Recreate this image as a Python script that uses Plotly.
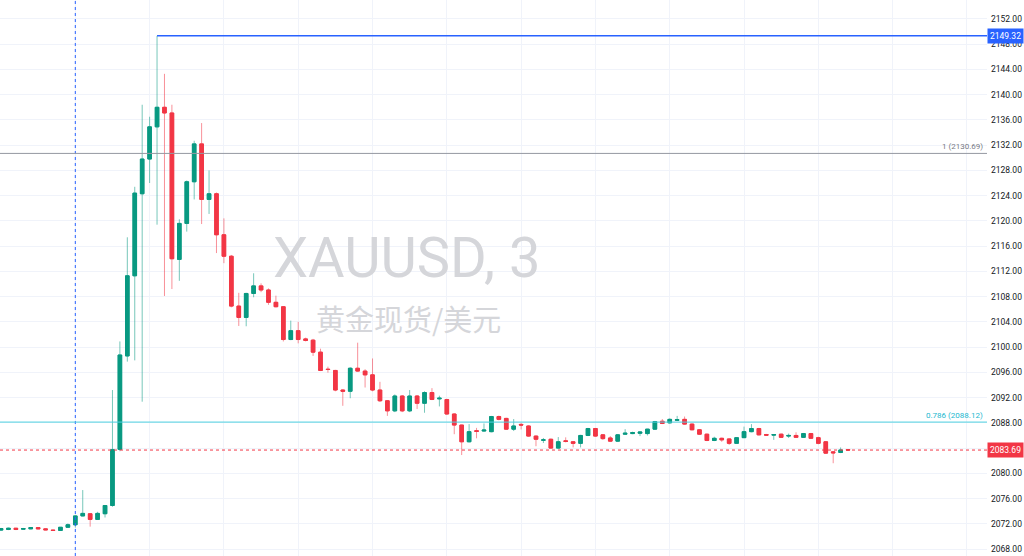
import plotly.graph_objects as go

# ---- data (3-minute XAUUSD candles) ----
idx = list(range(115))
opens = [2071.0, 2071.1, 2071.3, 2071.15, 2071.2, 2071.4, 2071.2, 2071.0, 2070.95, 2071.45,
         2071.85, 2073.25, 2073.6, 2072.7, 2073.6, 2074.9, 2083.8, 2098.6, 2111.3, 2124.3,
         2129.8, 2134.9, 2138.0, 2137.1, 2113.9, 2119.6, 2126.2, 2132.2, 2123.4, 2124.3,
         2117.8, 2114.4, 2106.5, 2104.7, 2108.5, 2109.7, 2109.05, 2107.1, 2106.4, 2101.2,
         2102.6, 2101.3, 2101.1, 2099.2, 2096.5, 2096.3, 2093.2, 2093.0, 2096.65, 2096.2,
         2095.6, 2093.2, 2091.5, 2089.9, 2092.25, 2089.9, 2092.25, 2091.1, 2092.8, 2091.8,
         2091.7, 2089.4, 2087.65, 2085.0, 2086.75, 2086.7, 2086.6, 2089.0, 2088.7, 2087.0,
         2087.75, 2087.5, 2085.9, 2085.25, 2085.4, 2084.0, 2085.15, 2085.0, 2084.75, 2086.0,
         2087.1, 2086.1, 2085.6, 2085.1, 2086.2, 2086.3, 2086.35, 2086.3, 2087.0, 2088.25,
         2088.0, 2088.4, 2088.55, 2087.8, 2086.9, 2086.2, 2085.2, 2085.55, 2085.45, 2084.75,
         2085.65, 2086.6, 2087.1, 2086.15, 2086.05, 2086.2, 2085.9, 2086.0, 2085.7, 2086.3,
         2085.65, 2085.0, 2083.4, 2083.3, 2083.75]
highs = [2071.35, 2071.4, 2071.35, 2071.35, 2071.45, 2071.45, 2071.25, 2071.05, 2071.5, 2072.05,
         2073.3, 2077.35, 2073.65, 2073.9, 2074.95, 2093.2, 2100.9, 2117.4, 2125.4, 2138.4,
         2136.5, 2149.32, 2143.3, 2138.4, 2120.25, 2126.4, 2132.7, 2135.5, 2128.0, 2124.5,
         2120.4, 2114.6, 2108.6, 2108.6, 2111.7, 2110.1, 2109.3, 2108.15, 2106.5, 2104.2,
         2104.0, 2101.5, 2101.3, 2099.75, 2096.9, 2096.4, 2093.3, 2096.8, 2100.7, 2096.5,
         2098.2, 2094.5, 2091.6, 2092.5, 2092.4, 2093.2, 2092.4, 2093.0, 2093.5, 2092.3,
         2091.8, 2089.5, 2087.7, 2087.8, 2087.2, 2087.9, 2089.1, 2089.15, 2088.8, 2088.6,
         2088.0, 2087.6, 2086.0, 2085.6, 2085.5, 2085.75, 2085.7, 2085.1, 2086.1, 2087.2,
         2087.2, 2086.2, 2085.9, 2086.2, 2087.0, 2086.6, 2086.6, 2087.05, 2088.3, 2088.6,
         2088.7, 2089.1, 2089.0, 2087.9, 2087.0, 2086.3, 2085.8, 2085.65, 2085.55, 2085.7,
         2087.4, 2087.8, 2087.2, 2086.25, 2086.2, 2086.3, 2086.3, 2086.5, 2086.4, 2086.4,
         2085.8, 2085.1, 2083.5, 2084.1, 2083.85]
lows = [2070.9, 2071.0, 2071.0, 2071.1, 2071.15, 2071.15, 2071.0, 2070.9, 2070.9, 2071.4,
        2071.4, 2073.2, 2071.55, 2072.65, 2073.0, 2074.7, 2083.5, 2097.7, 2097.9, 2091.35,
        2126.0, 2119.4, 2108.1, 2109.2, 2110.5, 2118.3, 2123.4, 2119.5, 2121.1, 2114.9,
        2113.3, 2106.3, 2103.35, 2103.3, 2107.9, 2108.7, 2106.7, 2106.3, 2100.9, 2101.1,
        2100.6, 2100.9, 2098.6, 2096.2, 2095.95, 2093.0, 2090.7, 2091.9, 2096.1, 2093.6,
        2093.0, 2091.3, 2089.1, 2089.7, 2089.7, 2089.7, 2090.2, 2089.6, 2091.6, 2090.6,
        2089.3, 2086.2, 2082.9, 2084.9, 2085.55, 2086.6, 2086.5, 2088.4, 2086.9, 2086.7,
        2086.95, 2085.8, 2084.3, 2084.8, 2083.9, 2083.9, 2084.9, 2084.1, 2084.1, 2085.9,
        2085.8, 2085.3, 2085.0, 2085.0, 2086.1, 2086.2, 2085.9, 2086.0, 2086.9, 2087.8,
        2087.9, 2088.3, 2087.7, 2086.8, 2086.1, 2085.1, 2085.1, 2085.0, 2084.5, 2084.7,
        2085.6, 2086.5, 2086.0, 2086.0, 2085.3, 2085.6, 2085.6, 2085.6, 2085.6, 2085.5,
        2084.6, 2083.1, 2081.6, 2083.2, 2083.6]
closes = [2071.25, 2071.3, 2071.1, 2071.25, 2071.4, 2071.2, 2071.05, 2070.95, 2071.45, 2071.85,
          2073.25, 2073.65, 2072.7, 2073.65, 2074.9, 2083.75, 2098.75, 2111.3, 2124.4, 2129.8,
          2134.9, 2138.0, 2137.1, 2114.0, 2119.6, 2126.2, 2132.2, 2123.4, 2124.3, 2117.8,
          2114.4, 2106.5, 2104.7, 2108.5, 2109.7, 2109.05, 2107.1, 2106.4, 2101.2, 2102.6,
          2101.2, 2101.05, 2099.2, 2096.3, 2096.45, 2093.2, 2093.0, 2096.65, 2096.2, 2095.6,
          2093.2, 2091.5, 2089.9, 2092.25, 2089.9, 2092.25, 2091.1, 2092.8, 2091.7, 2091.9,
          2089.4, 2087.65, 2085.0, 2086.6, 2086.65, 2086.85, 2089.0, 2088.55, 2087.0, 2087.5,
          2087.65, 2085.9, 2085.4, 2085.3, 2084.0, 2085.0, 2085.05, 2084.75, 2086.0, 2087.1,
          2085.9, 2085.5, 2085.1, 2086.1, 2086.35, 2086.45, 2086.55, 2087.0, 2088.2, 2087.9,
          2088.55, 2088.5, 2087.8, 2086.9, 2086.2, 2085.2, 2085.55, 2085.3, 2084.75, 2085.65,
          2086.6, 2087.1, 2086.1, 2086.05, 2086.15, 2085.7, 2086.0, 2085.7, 2086.3, 2085.55,
          2084.75, 2083.2, 2083.25, 2083.7, 2083.69]

y_ticks = [2068 + 4 * k for k in range(22)]
high_level = 2149.32
high_index = 21
fib_1 = 2130.69
fib_786 = 2088.12
last_price = closes[-1]
marker_index = 10
title_text = "XAUUSD, 3"
subtitle_text = "黄金现货/美元"

GREEN = "#089981"
RED = "#F23645"
GREEN_W = "rgba(8,153,129,0.55)"
RED_W = "rgba(242,54,69,0.55)"

PLOT_W = 987  # plot-area width in px (right margin holds the price scale)
X_RANGE = [-0.135, 132.7]
Y_RANGE = [2066.9, 2155.0]

fig = go.Figure()

# wicks (lighter colour)
fig.add_trace(go.Candlestick(
    x=idx, open=opens, high=highs, low=lows, close=closes,
    increasing=dict(line=dict(color=GREEN_W, width=1), fillcolor=GREEN_W),
    decreasing=dict(line=dict(color=RED_W, width=1), fillcolor=RED_W),
    whiskerwidth=0, hoverinfo="skip", showlegend=False))

# bodies
body_hi = [max(o, c) for o, c in zip(opens, closes)]
body_lo = [min(o, c) for o, c in zip(opens, closes)]
fig.add_trace(go.Candlestick(
    x=idx, open=opens, high=body_hi, low=body_lo, close=closes,
    increasing=dict(line=dict(color=GREEN, width=1), fillcolor=GREEN),
    decreasing=dict(line=dict(color=RED, width=1), fillcolor=RED),
    whiskerwidth=0, showlegend=False))

def xfrac(v):
    return (v - X_RANGE[0]) / (X_RANGE[1] - X_RANGE[0])

shapes = [
    dict(type="line", xref="x", yref="paper", x0=marker_index, x1=marker_index, y0=0, y1=1,
         line=dict(color="#2962FF", width=1, dash="dot")),
    dict(type="line", xref="paper", yref="y", x0=xfrac(high_index), x1=1.0,
         y0=high_level, y1=high_level, line=dict(color="#2962FF", width=1.5)),
    dict(type="line", xref="paper", yref="y", x0=0, x1=1.0, y0=fib_1, y1=fib_1,
         line=dict(color="#9598a1", width=1)),
    dict(type="line", xref="paper", yref="y", x0=0, x1=1.0, y0=fib_786, y1=fib_786,
         line=dict(color="#4dd0e1", width=1)),
    dict(type="line", xref="paper", yref="y", x0=0, x1=1.0, y0=last_price, y1=last_price,
         line=dict(color="#F23645", width=1, dash="dot")),
]

annotations = [
    dict(text=title_text, xref="paper", yref="paper", x=406 / PLOT_W, y=1 - 258 / 556,
         xanchor="center", yanchor="middle", showarrow=False,
         font=dict(family="Roboto, Open Sans, sans-serif", size=56, color="#d5d6da")),
    dict(text=subtitle_text, xref="paper", yref="paper", x=408 / PLOT_W, y=1 - 318 / 556,
         xanchor="center", yanchor="middle", showarrow=False,
         font=dict(family="Noto Sans CJK SC", size=29, color="#d5d6da")),
    dict(text=f"1 ({fib_1:.2f})", xref="paper", yref="y", x=985 / PLOT_W, y=fib_1,
         xanchor="right", yanchor="bottom", showarrow=False, yshift=0,
         font=dict(family="Roboto, sans-serif", size=8, color="#787b86")),
    dict(text=f"0.786 ({fib_786:.2f})", xref="paper", yref="y", x=985 / PLOT_W, y=fib_786,
         xanchor="right", yanchor="bottom", showarrow=False, yshift=0,
         font=dict(family="Roboto, sans-serif", size=8, color="#22b8cf")),
    dict(text=f"{high_level:.2f}", xref="paper", yref="y", x=1.0, y=high_level,
         xanchor="left", yanchor="middle", showarrow=False, bgcolor="#2962FF",
         borderpad=2, font=dict(family="Roboto, sans-serif", size=8.5, color="white")),
    dict(text=f"{last_price:.2f}", xref="paper", yref="y", x=1.0, y=last_price,
         xanchor="left", yanchor="middle", showarrow=False, bgcolor="#F23645",
         borderpad=2, font=dict(family="Roboto, sans-serif", size=8.5, color="white")),
]

fig.update_layout(
    width=1024, height=556,
    margin=dict(l=0, r=1024 - PLOT_W, t=0, b=0),
    paper_bgcolor="white", plot_bgcolor="white",
    shapes=shapes, annotations=annotations,
    showlegend=False,
    xaxis=dict(range=X_RANGE, showticklabels=False, showgrid=True, gridcolor="#f0f3fa",
               tick0=0, dtick=10, zeroline=False, rangeslider=dict(visible=False),
               fixedrange=True, showline=False),
    yaxis=dict(range=Y_RANGE, side="right", tickvals=y_ticks,
               ticktext=[f"{v:.2f}" for v in y_ticks],
               showgrid=True, gridcolor="#f0f3fa", zeroline=False, showline=False,
               ticks="", ticklabelstandoff=3,
               tickfont=dict(family="Roboto, sans-serif", size=8.5, color="#131722")),
)

fig.write_html("out.html", config={"displayModeBar": False},
               post_script="document.body.style.margin='0';document.body.style.overflow='hidden';")
